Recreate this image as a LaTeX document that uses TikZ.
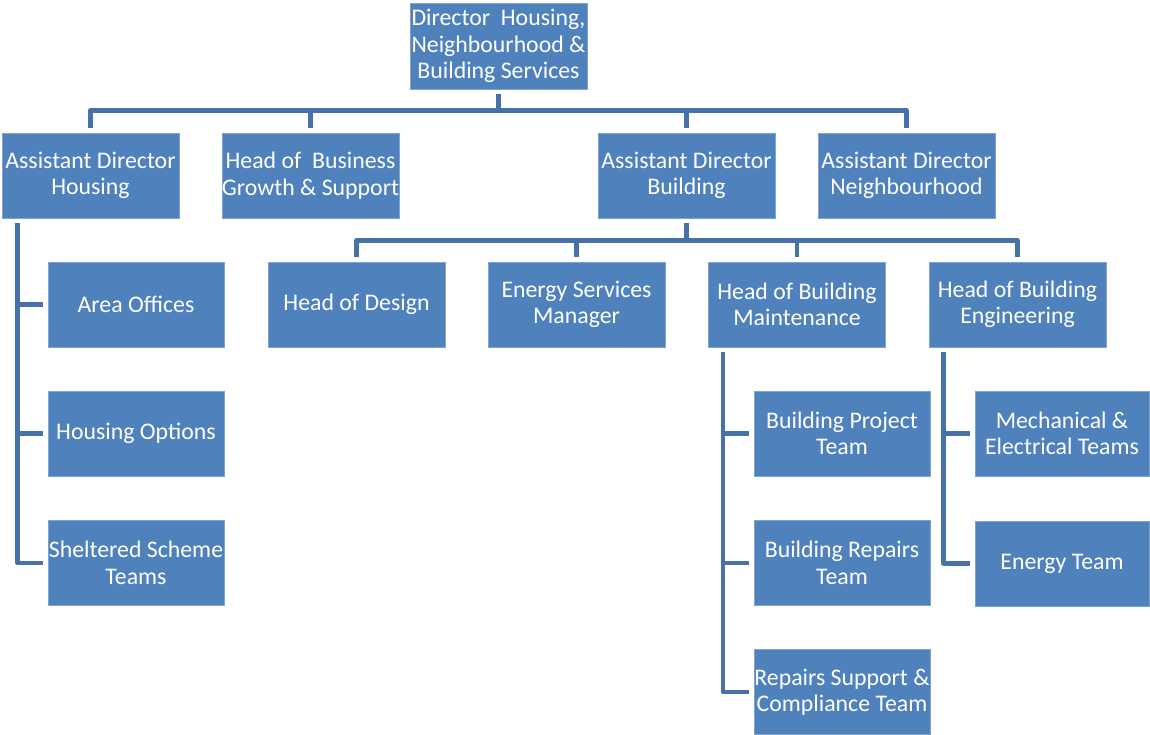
\documentclass[tikz,border=0pt]{standalone}
\usepackage{fontspec}
\setmainfont{Carlito}
\definecolor{boxblue}{HTML}{4F81BD}
\definecolor{boxedge}{HTML}{7EA3D0}
\definecolor{lineblue}{HTML}{4672A8}
\begin{document}
\begin{tikzpicture}[x=1pt,y=-1pt,
  box/.style={fill=boxblue,draw=boxedge,line width=0.8pt,minimum width=177pt,minimum height=85pt,
    inner sep=0pt,align=center,text=white,font=\fontsize{23.8}{26.5}\selectfont},
  conn/.style={draw=lineblue,line width=4.5pt,line join=round,shorten <=5pt,shorten >=5pt}]
\useasboundingbox (0,0) rectangle (1150,734);
\node[box,minimum height=86pt] (dir) at (498.5,46) {Director\ \ Housing,\\Neighbourhood \&\\Building Services};
\node[box] (adh) at (90.5,175.5) {Assistant Director\\Housing};
\node[box] (hbg) at (310.5,175.5) {Head of\ \ Business\\Growth \& Support};
\node[box] (adb) at (686.5,175.5) {Assistant Director\\Building};
\node[box] (adn) at (906.5,175.5) {Assistant Director\\Neighbourhood};
\node[box] (hd) at (356.5,304.5) {Head of Design};
\node[box] (esm) at (576.5,304.5) {Energy Services\\Manager};
\node[box] (hbm) at (797,304.5) {Head of Building\\Maintenance};
\node[box] (hbe) at (1017.5,304.5) {Head of Building\\Engineering};
\node[box,minimum width=176pt] (ao) at (136,304.5) {Area Offices};
\node[box,minimum width=176pt] (ho) at (136,433.5) {Housing Options};
\node[box,minimum width=176pt] (ss) at (136,563) {Sheltered Scheme\\Teams};
\node[box,minimum width=176pt] (bpt) at (842,433.5) {Building Project\\Team};
\node[box,minimum width=176pt] (brt) at (842,563) {Building Repairs\\Team};
\node[box,minimum width=176pt] (rsc) at (842,692) {Repairs Support \&\\Compliance Team};
\node[box,minimum width=174pt] (met) at (1062,433.5) {Mechanical \&\\Electrical Teams};
\node[box,minimum width=174pt] (et) at (1062,563.5) {Energy Team};
% top level
\foreach \c in {adh,hbg,adb,adn}
  \draw[conn] (dir.south) -- ++(0,21) -| (\c.north);
% building level
\foreach \c in {hd,esm,hbm,hbe}
  \draw[conn] (adb.south) -- ++(0,22) -| (\c.north);
% housing side
\foreach \c in {ao,ho,ss}
  \draw[conn] ([xshift=16pt]adh.south west) |- (\c.west);
% maintenance side
\foreach \c in {bpt,brt,rsc}
  \draw[conn] ([xshift=15pt]hbm.south west) |- (\c.west);
% engineering side
\foreach \c in {met,et}
  \draw[conn] ([xshift=15pt]hbe.south west) |- (\c.west);
\end{tikzpicture}
\end{document}
